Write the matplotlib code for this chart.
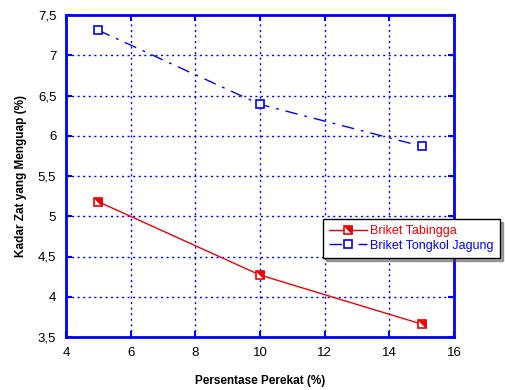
import matplotlib
matplotlib.use("Agg")
import matplotlib.pyplot as plt
from matplotlib.legend_handler import HandlerTuple

plt.rcParams['font.family'] = ['Liberation Sans', 'DejaVu Sans']

x = [5, 10, 15]
tabingga = [5.18, 4.27, 3.66]
tongkol = [7.31, 6.39, 5.87]
xticks = [4, 6, 8, 10, 12, 14, 16]
yticks = [3.5, 4, 4.5, 5, 5.5, 6, 6.5, 7, 7.5]
ytick_labels = ["3,5", "4", "4,5", "5", "5,5", "6", "6,5", "7", "7,5"]
xlabel = "Persentase Perekat (%)"
ylabel = "Kadar Zat yang Menguap (%)"
labels = ["Briket Tabingga", "Briket Tongkol Jagung"]

fig = plt.figure(figsize=(5.06, 3.90), dpi=100)
ax = fig.add_axes([66/506, 1-337/390, (454-66)/506, (337-15)/390])

blue = '#0000ff'
red = '#ee0000'

l1, = ax.plot(x, tabingga, color=red, lw=1, marker='s', ms=5.5, mfc='white',
              mec=red, mew=1.2, zorder=3)
tri = [(-1, 1), (1, 1), (1, -1), (-1, 1)]
l1b, = ax.plot(x, tabingga, ls='none', marker=tri, ms=5.5, mfc=red, mec=red,
               mew=0.5, zorder=4)
l2, = ax.plot(x, tongkol, color=blue, lw=1, marker='s', ms=5.5, mfc='white',
              mec=blue, mew=1.2, dashes=(9, 5, 2, 5), zorder=3)

ax.set_xlim(4, 16)
ax.set_ylim(3.5, 7.5)
ax.set_xticks(xticks)
ax.set_xticklabels([str(v) for v in xticks])
ax.set_yticks(yticks)
ax.set_yticklabels(ytick_labels)
ax.grid(True, color=blue, ls=(0, (1.5, 2.5)), lw=1)
ax.set_axisbelow(True)
for s in ax.spines.values():
    s.set_color(blue)
    s.set_linewidth(2)
ax.tick_params(direction='in', length=4, color=blue, width=1.5,
               labelsize=9.5, pad=7, right=True, top=True)
ax.set_xlabel(xlabel, fontsize=8.5, fontweight='bold', labelpad=12)
ax.set_ylabel(ylabel, fontsize=8.5, fontweight='bold', labelpad=8)

leg = fig.legend([(l1, l1b), l2], labels,
                 handler_map={tuple: HandlerTuple(ndivide=1)},
                 loc='upper left', bbox_to_anchor=(323/506, 1-219/390),
                 bbox_transform=fig.transFigure, fontsize=9,
                 frameon=True, fancybox=False, shadow=True, edgecolor='black',
                 framealpha=1, borderpad=0.5, labelspacing=0.2,
                 handlelength=3.0, handletextpad=0.3, borderaxespad=0)
leg.get_frame().set_linewidth(1)
for t, c in zip(leg.get_texts(), [red, blue]):
    t.set_color(c)

fig.savefig("out.png", dpi=100)
